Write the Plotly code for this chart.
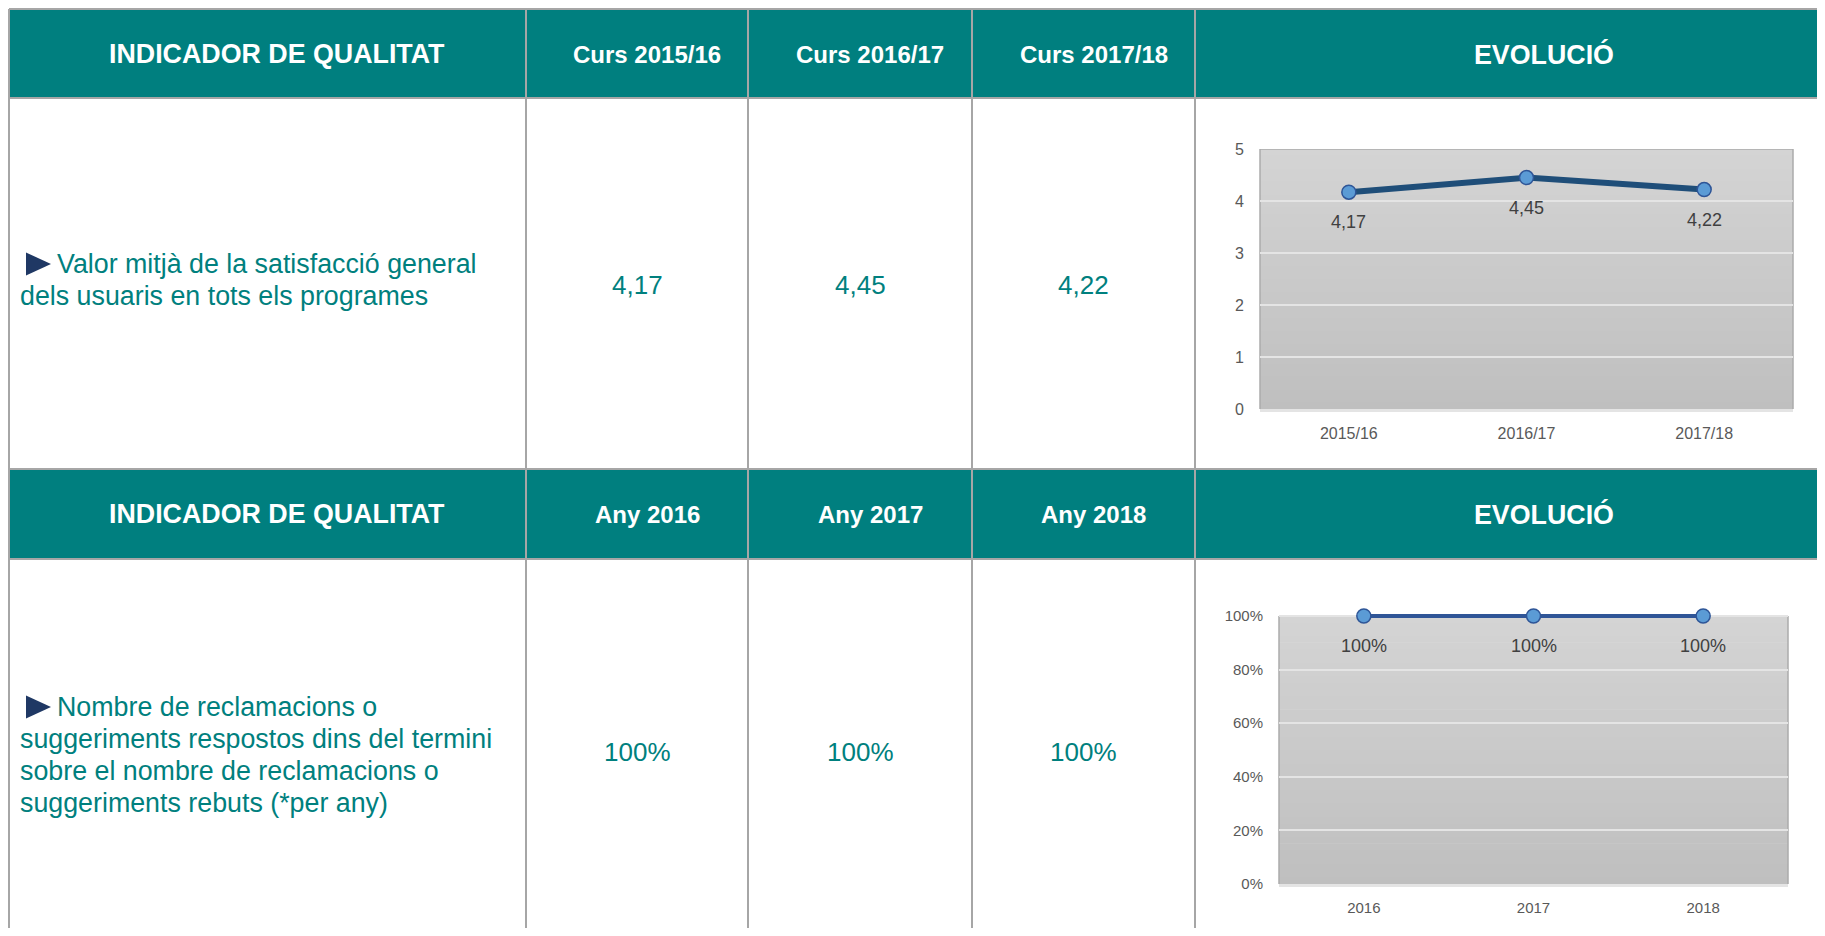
import plotly.graph_objects as go

# dades del quadre
titol_indicador = "INDICADOR DE QUALITAT"
titol_evolucio = "EVOLUCIÓ"

cursos = ["Curs 2015/16", "Curs 2016/17", "Curs 2017/18"]
cursos_eix = ["2015/16", "2016/17", "2017/18"]
satisfaccio = [4.17, 4.45, 4.22]
text_ind1 = ["Valor mitjà de la satisfacció general",
             "dels usuaris en tots els programes"]

anys = ["Any 2016", "Any 2017", "Any 2018"]
anys_eix = ["2016", "2017", "2018"]
reclamacions = [1.0, 1.0, 1.0]
text_ind2 = ["Nombre de reclamacions o",
             "suggeriments respostos dins del termini",
             "sobre el nombre de reclamacions o",
             "suggeriments rebuts (*per any)"]

W, H = 1809, 920
OFF = 8  # marge per defecte del body

TEAL = "#007F7F"
VORA = "#A6A6A6"
TEXT_TEAL = "#00807E"
FONT = "Liberation Sans, Arial, sans-serif"

cols = [9, 526, 748, 972, 1195, 1880]
rows = [9, 98, 469, 559, 980]

# el gràfic 2 té una mica d'aire per sobre del 100% perquè la línia no quedi retallada
Y2_TOP = 1.03


def px(X):
    return (X - OFF) / W


def py(Y):
    return 1 - (Y - OFF) / H


def coma(v, dec=2):
    return f"{v:.{dec}f}".replace(".", ",")


def pct(v):
    return f"{v * 100:.0f}%"


fig = go.Figure()

# --- gràfic 1: satisfacció ---
fig.add_trace(go.Scatter(
    x=cursos_eix, y=satisfaccio, mode="lines+markers",
    line=dict(color="#1F4E79", width=6),
    marker=dict(size=14, color="#5B9BD5", line=dict(color="#2E5597", width=1.5)),
    xaxis="x", yaxis="y", hoverinfo="skip", cliponaxis=False,
))

# --- gràfic 2: reclamacions ---
fig.add_trace(go.Scatter(
    x=anys_eix, y=reclamacions, mode="lines+markers",
    line=dict(color="#2F5597", width=4),
    marker=dict(size=14, color="#5B9BD5", line=dict(color="#2E5597", width=1.5)),
    xaxis="x2", yaxis="y2", hoverinfo="skip", cliponaxis=False,
))

shapes = []
annotations = []

# fons de la taula
for r0, r1 in [(rows[0], rows[1]), (rows[2], rows[3])]:
    shapes.append(dict(type="rect", xref="paper", yref="paper",
                       x0=px(cols[0]), x1=px(cols[-1]), y0=py(r1), y1=py(r0),
                       fillcolor=TEAL, line=dict(width=0), layer="below"))
for r in rows[:-1]:
    shapes.append(dict(type="line", xref="paper", yref="paper",
                       x0=px(cols[0]), x1=px(cols[-1]), y0=py(r), y1=py(r),
                       line=dict(color=VORA, width=2)))
for c in cols[:-1]:
    shapes.append(dict(type="line", xref="paper", yref="paper",
                       x0=px(c), x1=px(c), y0=py(rows[0]), y1=py(rows[-1]),
                       line=dict(color=VORA, width=2)))

# degradat del fons dels gràfics (de 0 al màxim de l'eix)
N = 40
top_c, bot_c = (0xD4, 0xD4, 0xD4), (0xBF, 0xBF, 0xBF)
for xr, yr, ymax in [("x", "y", 5), ("x2", "y2", 1.0)]:
    for i in range(N):
        t = (i + 0.5) / N
        c = tuple(round(b + (a - b) * t) for a, b in zip(top_c, bot_c))
        shapes.append(dict(type="rect", xref=f"{xr} domain", yref=yr,
                           x0=0, x1=1, y0=ymax * i / N, y1=ymax * min(1, (i + 1.1) / N),
                           fillcolor="rgb(%d,%d,%d)" % c, line=dict(width=0),
                           layer="below"))
    for x0, y0, x1, y1 in [(0, 0, 0, ymax), (0, ymax, 1, ymax), (1, ymax, 1, 0)]:
        shapes.append(dict(type="line", xref=f"{xr} domain", yref=yr,
                           x0=x0, y0=y0, x1=x1, y1=y1,
                           line=dict(color="#ABABAB", width=1.5), layer="below"))


# triangles de vinyeta
def triangle(yc):
    x0, x1 = 26, 51
    return dict(type="path", xref="paper", yref="paper",
                path=f"M {px(x0):.5f},{py(yc - 11.5):.5f} L {px(x1):.5f},{py(yc):.5f} "
                     f"L {px(x0):.5f},{py(yc + 11.5):.5f} Z",
                fillcolor="#1F3864", line=dict(width=0))


def header(text, x, y, size):
    annotations.append(dict(text=text, x=px(x), y=py(y), xref="paper", yref="paper",
                            showarrow=False, xanchor="center", yanchor="middle",
                            font=dict(family=FONT, size=size, color="white", weight="bold")))


# capçaleres
for yc, etiquetes in [(54, cursos), (514, anys)]:
    header(titol_indicador, 277, yc, 26.8)
    for i, lab in enumerate(etiquetes):
        header(lab, (cols[i + 1] + cols[i + 2]) / 2 + 10, yc, 24)
    header(titol_evolucio, 1544, yc, 26.8)

# valors de les cel·les
for yc, vals, fmt in [(285, satisfaccio, coma), (752, reclamacions, pct)]:
    for i, v in enumerate(vals):
        annotations.append(dict(text=fmt(v), x=px((cols[i + 1] + cols[i + 2]) / 2), y=py(yc),
                                xref="paper", yref="paper", showarrow=False,
                                xanchor="center", yanchor="middle",
                                font=dict(family=FONT, size=26, color=TEXT_TEAL)))

# text dels indicadors
for y_first, linies in [(264, text_ind1), (707, text_ind2)]:
    shapes.append(triangle(y_first))
    for k, lin in enumerate(linies):
        annotations.append(dict(text=lin, x=px(55 if k == 0 else 18), y=py(y_first + 32 * k),
                                xref="paper", yref="paper", showarrow=False,
                                xanchor="left", yanchor="middle",
                                font=dict(family=FONT, size=26.8, color=TEXT_TEAL)))

# etiquetes de dades dels gràfics (x = índex de la categoria)
for xs, ys, xr, yr, fmt in [(cursos_eix, satisfaccio, "x", "y", coma),
                            (anys_eix, reclamacions, "x2", "y2", pct)]:
    for i, yv in enumerate(ys):
        annotations.append(dict(text=fmt(yv), x=i, y=yv, xref=xr, yref=yr,
                                showarrow=False, yshift=-30,
                                font=dict(family=FONT, size=18, color="#404040")))

eix_x = dict(type="category", range=[-0.5, 2.5], showgrid=False, zeroline=False,
             ticks="outside", ticklen=8, tickcolor="rgba(0,0,0,0)", automargin=False,
             showline=True, linecolor="#E4E4E4", linewidth=3, fixedrange=True)
eix_y = dict(showgrid=True, gridcolor="#E4E4E4", gridwidth=1.5, zeroline=False,
             ticks="outside", ticklen=12, tickcolor="rgba(0,0,0,0)", automargin=False,
             showline=False, fixedrange=True)

# domini del gràfic 2: 100% cau a Y=616, 0% a Y=884
y2_bot, y2_100 = py(884), py(616)
y2_top = y2_bot + (y2_100 - y2_bot) * Y2_TOP

fig.update_layout(
    width=W, height=H,
    margin=dict(l=0, r=0, t=0, b=0, pad=0, autoexpand=False),
    paper_bgcolor="white", plot_bgcolor="rgba(0,0,0,0)",
    showlegend=False,
    font=dict(family=FONT),
    xaxis=dict(eix_x, domain=[px(1260), px(1793)], anchor="y",
               tickfont=dict(size=16, color="#595959")),
    yaxis=dict(eix_y, domain=[py(409), py(149)], anchor="x", range=[0, 5], dtick=1,
               tickfont=dict(size=16, color="#595959")),
    xaxis2=dict(eix_x, domain=[px(1279), px(1788)], anchor="y2",
                tickfont=dict(size=15, color="#595959")),
    yaxis2=dict(eix_y, domain=[y2_bot, y2_top], anchor="x2", range=[0, Y2_TOP],
                tickvals=[0, 0.2, 0.4, 0.6, 0.8, 1.0],
                tickformat=".0%", tickfont=dict(size=15, color="#595959")),
    shapes=shapes,
    annotations=annotations,
)

fig.write_html("out.html")
